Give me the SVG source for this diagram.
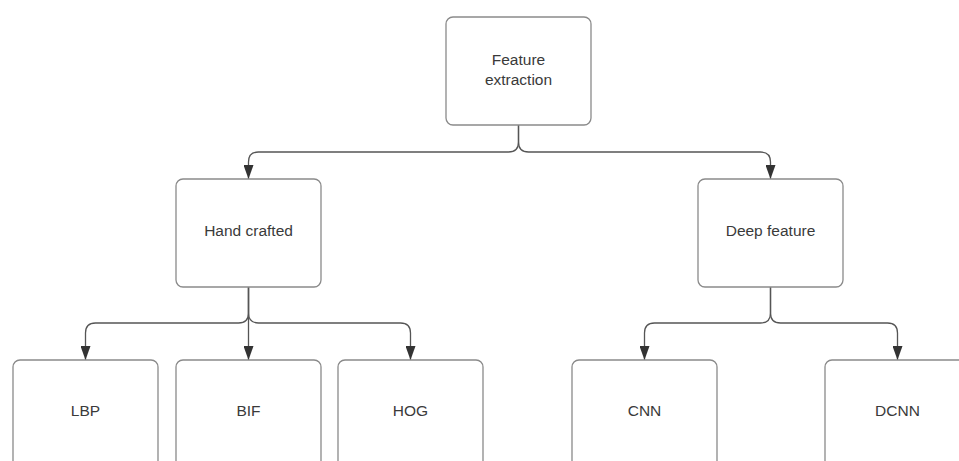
<svg xmlns="http://www.w3.org/2000/svg" width="959" height="461" viewBox="0 0 959 461">
<style>
.box{fill:#fff;stroke:#8a8a8a;stroke-width:1.3}
.lbl{font-family:"Liberation Sans",Arial,sans-serif;font-size:15.5px;fill:#3a3a3a;text-anchor:middle}
.con{fill:none;stroke:#555;stroke-width:1.3}
</style>
<defs>
<marker id="arr" markerUnits="userSpaceOnUse" markerWidth="14" markerHeight="10" refX="14" refY="5" orient="auto" viewBox="0 0 14 10">
<path d="M0,0 L14,5 L0,10 Z" fill="#333"/>
</marker>
</defs>
<rect width="959" height="461" fill="#fff"/>
<g id="connectors">
<path class="con" marker-end="url(#arr)" d="M518.5,125 L518.5,142 Q518.5,152 508.5,152 L258.5,152 Q248.5,152 248.5,162 L248.5,179"/>
<path class="con" marker-end="url(#arr)" d="M518.5,125 L518.5,142 Q518.5,152 528.5,152 L760.5,152 Q770.5,152 770.5,162 L770.5,179"/>
<path class="con" marker-end="url(#arr)" d="M248.5,287 L248.5,313 Q248.5,323 238.5,323 L95.5,323 Q85.5,323 85.5,333 L85.5,360"/>
<path class="con" marker-end="url(#arr)" d="M248.5,287 L248.5,360"/>
<path class="con" marker-end="url(#arr)" d="M248.5,287 L248.5,313 Q248.5,323 258.5,323 L400.5,323 Q410.5,323 410.5,333 L410.5,360"/>
<path class="con" marker-end="url(#arr)" d="M770.5,287 L770.5,313 Q770.5,323 760.5,323 L654.5,323 Q644.5,323 644.5,333 L644.5,360"/>
<path class="con" marker-end="url(#arr)" d="M770.5,287 L770.5,313 Q770.5,323 780.5,323 L887.5,323 Q897.5,323 897.5,333 L897.5,360"/>
</g>
<g id="feature_extraction">
<rect class="box" x="446" y="17" width="145" height="108" rx="7"/>
<text class="lbl" x="518.5" y="65">Feature</text>
<text class="lbl" x="518.5" y="85">extraction</text>
</g>
<g id="hand_crafted">
<rect class="box" x="176" y="179" width="145" height="108" rx="7"/>
<text class="lbl" x="248.5" y="236">Hand crafted</text>
</g>
<g id="deep_feature">
<rect class="box" x="698" y="179" width="145" height="108" rx="7"/>
<text class="lbl" x="770.5" y="236">Deep feature</text>
</g>
<g id="lbp">
<rect class="box" x="13" y="360" width="145" height="108" rx="7"/>
<text class="lbl" x="85.5" y="416">LBP</text>
</g>
<g id="bif">
<rect class="box" x="176" y="360" width="145" height="108" rx="7"/>
<text class="lbl" x="248.5" y="416">BIF</text>
</g>
<g id="hog">
<rect class="box" x="338" y="360" width="145" height="108" rx="7"/>
<text class="lbl" x="410.5" y="416">HOG</text>
</g>
<g id="cnn">
<rect class="box" x="572" y="360" width="145" height="108" rx="7"/>
<text class="lbl" x="644.5" y="416">CNN</text>
</g>
<g id="dcnn">
<rect class="box" x="825" y="360" width="145" height="108" rx="7"/>
<text class="lbl" x="897.5" y="416">DCNN</text>
</g>
</svg>
